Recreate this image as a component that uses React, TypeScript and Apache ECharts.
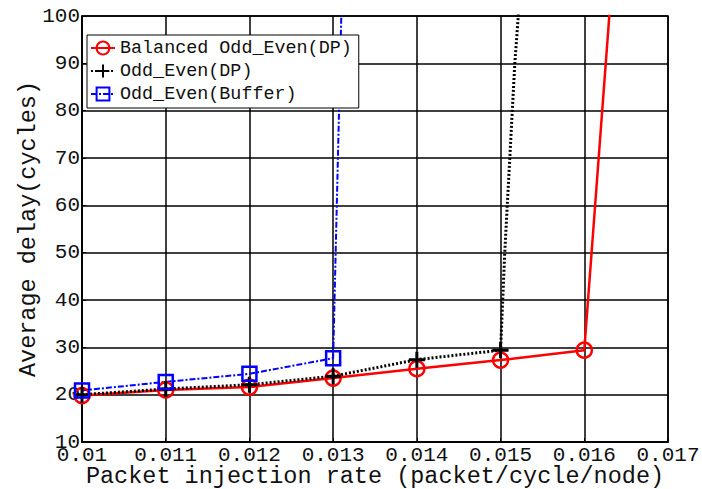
import React, { useEffect, useRef } from "react";
import * as echarts from "echarts";

const xTickLabels = ["0.01", "0.011", "0.012", "0.013", "0.014", "0.015", "0.016", "0.017"];

const balancedX = [0.01, 0.011, 0.012, 0.013, 0.014, 0.015, 0.016, 0.01632];
const balancedY = [19.8, 21.0, 21.6, 23.5, 25.5, 27.3, 29.4, 105];

const oddEvenX = [0.01, 0.011, 0.012, 0.013, 0.014, 0.015, 0.01505, 0.01511, 0.01517, 0.01522];
const oddEvenY = [20.0, 21.2, 22.1, 23.9, 27.4, 29.4, 50, 70, 90, 102];

const bufferX = [0.01, 0.011, 0.012, 0.013, 0.0131];
const bufferY = [20.9, 22.7, 24.4, 27.7, 102];

const markerCount = { balanced: 7, oddEven: 6, buffer: 4 };

const FONT = "Liberation Mono";

function build(xs: number[], ys: number[], n: number) {
  return xs.map((x, i) => (i < n ? { value: [x, ys[i]] } : { value: [x, ys[i]], symbol: "none" }));
}

export default function App() {
  const ref = useRef<HTMLDivElement>(null);
  useEffect(() => {
    if (!ref.current) return;
    const chart = echarts.init(ref.current, null, { renderer: "svg" });
    chart.setOption({
      animation: false,
      backgroundColor: "#fff",
      grid: {
        left: 82,
        right: 34,
        top: 16,
        bottom: 47,
        outerBoundsMode: "none",
        containLabel: false,
        show: true,
        borderColor: "#000",
        borderWidth: 1.5,
        backgroundColor: "transparent",
      },
      legend: {
        left: 87,
        top: 35,
        orient: "vertical",
        padding: [3, 7, 4, 3],
        itemWidth: 24,
        itemHeight: 16,
        itemGap: 3,
        backgroundColor: "#fff",
        borderColor: "#000",
        borderWidth: 1,
        borderRadius: 0,
        textStyle: { fontFamily: FONT, fontSize: 18.4, color: "#111", lineHeight: 20 },
        data: ["Balanced Odd_Even(DP)", "Odd_Even(DP)", "Odd_Even(Buffer)"],
      },
      xAxis: {
        type: "value",
        min: 0.01,
        max: 0.017,
        interval: 0.001,
        name: "Packet injection rate (packet/cycle/node)",
        nameLocation: "middle",
        nameGap: 25,
        nameMoveOverlap: false,
        nameTextStyle: { fontFamily: FONT, fontSize: 23.5, color: "#111", lineHeight: 18 },
        axisLine: { show: true, lineStyle: { color: "#000", width: 1.5 } },
        axisTick: { show: true, inside: true, length: 4, lineStyle: { color: "#000" } },
        axisLabel: {
          fontFamily: FONT,
          fontSize: 21,
          color: "#111",
          margin: 6,
          lineHeight: 14,
          formatter: (v: number) => xTickLabels[Math.round((v - 0.01) / 0.001)] ?? "",
        },
        splitLine: { show: true, lineStyle: { color: "#000", width: 1.5 } },
      },
      yAxis: {
        type: "value",
        min: 10,
        max: 100,
        interval: 10,
        name: "Average delay(cycles)",
        nameLocation: "middle",
        nameGap: 42,
        nameMoveOverlap: false,
        nameTextStyle: { fontFamily: FONT, fontSize: 23.5, color: "#111" },
        axisLine: { show: true, lineStyle: { color: "#000", width: 1.5 } },
        axisTick: { show: true, inside: true, length: 4, lineStyle: { color: "#000" } },
        axisLabel: { fontFamily: FONT, fontSize: 21, color: "#111", margin: 2, lineHeight: 12 },
        splitLine: { show: true, lineStyle: { color: "#000", width: 1.5 } },
      },
      series: [
        {
          name: "Balanced Odd_Even(DP)",
          type: "line",
          clip: true,
          data: build(balancedX, balancedY, markerCount.balanced),
          symbol: "circle",
          symbolSize: 15,
          lineStyle: { color: "#ff0000", width: 2.5, type: "solid" },
          itemStyle: { color: "rgba(0,0,0,0)", borderColor: "#ff0000", borderWidth: 2.5 },
        },
        {
          name: "Odd_Even(DP)",
          type: "line",
          clip: true,
          data: build(oddEvenX, oddEvenY, markerCount.oddEven),
          symbol: "path://M0 5H10M5 0V10",
          symbolSize: 16,
          lineStyle: { color: "#000", width: 3, type: [2, 2] },
          itemStyle: { color: "rgba(0,0,0,0)", borderColor: "#000", borderWidth: 3 },
        },
        {
          name: "Odd_Even(Buffer)",
          type: "line",
          clip: true,
          data: build(bufferX, bufferY, markerCount.buffer),
          symbol: "rect",
          symbolSize: 14,
          lineStyle: { color: "#0000ff", width: 2, type: [6, 2, 2, 2] },
          itemStyle: { color: "rgba(0,0,0,0)", borderColor: "#0000ff", borderWidth: 2.5 },
        },
      ],
    });
    return () => chart.dispose();
  }, []);
  return (
    <div
      ref={ref}
      style={{ position: "absolute", left: 0, top: 0, width: 702, height: 489 }}
    />
  );
}
